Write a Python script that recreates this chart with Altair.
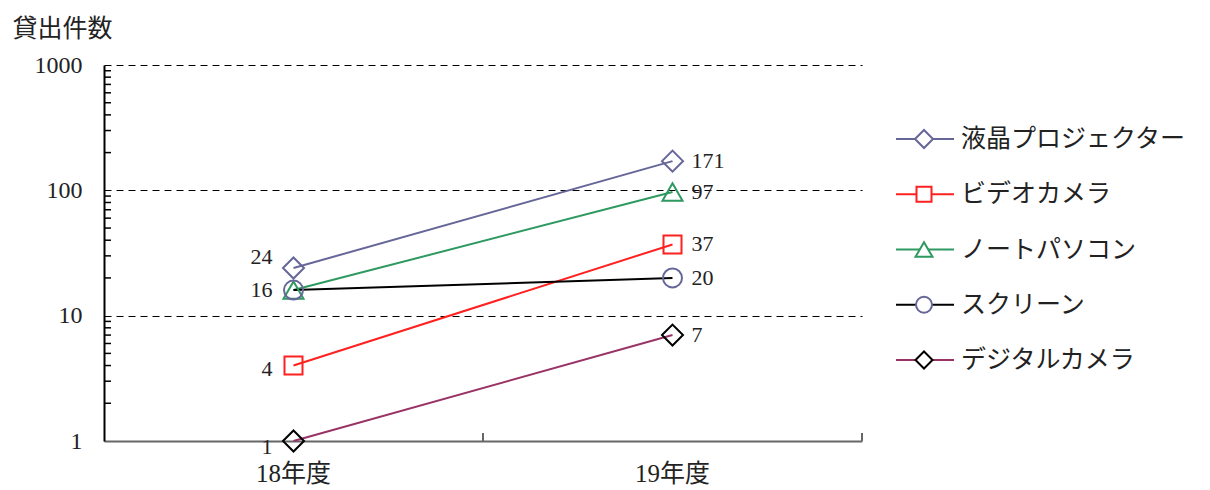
import altair as alt
import pandas as pd

years = ["18年度", "19年度"]
series = ["液晶プロジェクター", "ビデオカメラ", "ノートパソコン", "スクリーン", "デジタルカメラ"]
values_18 = [24, 4, 16, 16, 1]
values_19 = [171, 37, 97, 20, 7]
show_label_18 = [True, True, False, True, True]
y_ticks = [1, 10, 100, 1000]
minor_ticks = [2, 3, 4, 5, 6, 7, 8, 9, 20, 30, 40, 50, 60, 70, 80, 90,
               200, 300, 400, 500, 600, 700, 800, 900]

line_colors = ["#666699", "#FF2020", "#2E9960", "#000000", "#993366"]
marker_colors = ["#666699", "#FF2020", "#2E9960", "#666699", "#000000"]
shapes = ["diamond", "square", "triangle-up", "circle", "diamond"]
marker_sizes = [441, 324, 400, 361, 441]
legend_sizes = [324, 225, 289, 256, 289]
label18_dy = [-11, 3, 0, 0, 6]

FONT = "Liberation Serif, Noto Sans CJK JP"
TXT = "#222222"

rows = []
for i, s in enumerate(series):
    for yr, v in zip(years, [values_18[i], values_19[i]]):
        rows.append(dict(series=s, year=yr, value=v, line=line_colors[i],
                         mcolor=marker_colors[i], shape=shapes[i], size=marker_sizes[i]))
df = pd.DataFrame(rows)

x_scale = alt.Scale(type="band", domain=years, paddingInner=0, paddingOuter=0)
y_scale = alt.Scale(type="log", domain=[1, 1000], nice=False)

x_axis = alt.Axis(title=None, ticks=False, grid=False, domainColor="#666666", domainWidth=2,
                  labelFont=FONT, labelFontSize=25, labelColor=TXT, labelPadding=20,
                  labelAngle=0)
y_axis = alt.Axis(title="貸出件数", titleAngle=0, titleX=-92, titleY=-37, titleAlign="left",
                  titleBaseline="middle", titleFont=FONT, titleFontSize=25, titleFontWeight="normal",
                  titleColor=TXT, values=y_ticks, format="d", ticks=False, tickSize=0,
                  labelFont=FONT, labelFontSize=24, labelColor=TXT, labelPadding=22,
                  domainColor="#000000", domainWidth=2,
                  grid=True, gridColor="#000000", gridWidth=1, gridDash=[7, 5],
                  gridOpacity={"condition": {"test": "datum.value === 1", "value": 0}, "value": 1})

X = alt.X("year:N", scale=x_scale, axis=x_axis)
Y = alt.Y("value:Q", scale=y_scale, axis=y_axis)

lines = alt.Chart(df).mark_line(strokeWidth=2).encode(
    x=X, y=Y, detail="series:N", stroke=alt.Stroke("line:N", scale=None))

markers = alt.Chart(df).mark_point(filled=False, strokeWidth=2, opacity=1).encode(
    x=X, y=Y,
    shape=alt.Shape("shape:N", scale=None),
    stroke=alt.Stroke("mcolor:N", scale=None),
    size=alt.Size("size:Q", scale=None))

labels19 = alt.Chart(df).transform_filter(alt.datum.year == years[1]).mark_text(
    align="left", baseline="middle", dx=19, font=FONT, fontSize=22, color=TXT).encode(
    x=X, y=Y, text="value:Q")

label18_layers = []
for i, s in enumerate(series):
    if not show_label_18[i]:
        continue
    label18_layers.append(
        alt.Chart(df).transform_filter((alt.datum.year == years[0]) & (alt.datum.series == s))
        .mark_text(align="right", baseline="middle", dx=-21, dy=label18_dy[i],
                   font=FONT, fontSize=22, color=TXT)
        .encode(x=X, y=Y, text="value:Q"))

minor = alt.Chart(pd.DataFrame({"value": minor_ticks})).mark_rule(
    color="#000000", strokeWidth=1.5).encode(y=Y, x=alt.value(0), x2=alt.value(7))

xticks = alt.Chart(pd.DataFrame({"year": years})).mark_rule(
    color="#666666", strokeWidth=2).encode(
    x=alt.X("year:N", scale=x_scale, axis=x_axis, bandPosition=1),
    y=alt.value(376), y2=alt.value(368))

main = alt.layer(lines, markers, labels19, *label18_layers, minor, xticks)

leg_df = pd.DataFrame({"series": series, "line": line_colors, "mcolor": marker_colors,
                       "shape": shapes, "lsize": legend_sizes})
leg_y = alt.Y("series:N", scale=alt.Scale(type="point", domain=series, range=[74, 295], padding=0),
              axis=None)
leg_lines = alt.Chart(leg_df).mark_rule(strokeWidth=2).encode(
    y=leg_y, x=alt.value(792), x2=alt.value(850), stroke=alt.Stroke("line:N", scale=None))
leg_marks = alt.Chart(leg_df).mark_point(filled=False, strokeWidth=2, opacity=1, fill="white").encode(
    y=leg_y, x=alt.value(820),
    shape=alt.Shape("shape:N", scale=None),
    stroke=alt.Stroke("mcolor:N", scale=None),
    size=alt.Size("lsize:Q", scale=None))
leg_text = alt.Chart(leg_df).mark_text(align="left", baseline="middle", dx=0,
                                        font=FONT, fontSize=25, color=TXT).encode(
    y=leg_y, x=alt.value(857), text="series:N")
legend = alt.layer(leg_lines, leg_marks, leg_text)

chart = alt.layer(main, legend).resolve_scale(y="independent").properties(
    width=758, height=376,
    autosize=alt.AutoSizeParams(type="none"),
    padding={"left": 96, "top": 57, "right": 340, "bottom": 48},
    background="white",
).configure_view(stroke=None)

chart.save("out.html", embed_options={"renderer": "svg", "actions": False})
